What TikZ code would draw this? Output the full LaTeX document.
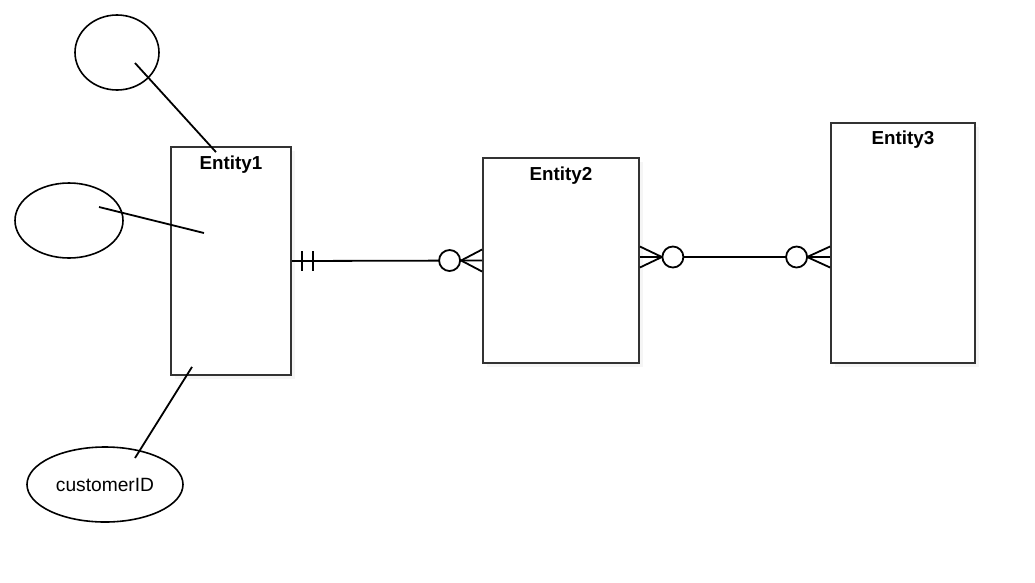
\documentclass[tikz,border=0pt]{standalone}
\usepackage{fontspec}
\setmainfont{Liberation Sans}
\usetikzlibrary{shapes.geometric,shadows,calc}
\definecolor{boxline}{HTML}{333333}
\begin{document}
\begin{tikzpicture}
    [x = 1pt, y = -1pt,
    entity/.style = {draw = boxline, line width = 1.8pt, fill = white,
        inner sep = 0pt,
        drop shadow = {shadow xshift = 4pt, shadow yshift = -4pt, fill = black!8}},
    title/.style = {anchor = base, inner sep = 0pt,
        font = \bfseries\fontsize{18.8}{22}\selectfont},
    attr/.style = {draw, ellipse, line width = 1.6pt, inner sep = 0pt,
        minimum height = 75pt, font = \fontsize{19.2}{22}\selectfont},
    conn/.style = {line width = 1.8pt},
    circ/.style = {draw, circle, fill = white, line width = 1.8pt,
        inner sep = 0pt, minimum size = 21pt}]
    \useasboundingbox (0, 0) rectangle (1035, 582);
    \node[entity, minimum width = 120pt, minimum height = 228pt] (e1) at (231, 261) {};
    \node[entity, minimum width = 156pt, minimum height = 205pt] (e2) at (561, 260.5) {};
    \node[entity, minimum width = 144pt, minimum height = 240pt] (e3) at (903, 243) {};
    \node[title] (t1) at ([yshift = -23pt]e1.north) {Entity1};
    \node[title] (t2) at ([yshift = -23pt]e2.north) {Entity2};
    \node[title] (t3) at ([yshift = -22pt]e3.north) {Entity3};
    \node[attr, minimum width = 84pt] (a1) at (117, 52.5) {};
    \node[attr, minimum width = 108pt] (a2) at (69, 220.5) {};
    \node[attr, minimum width = 156pt] (a3) at (105, 484.5) {customerID};
    \draw[conn] ($(a1.center) + (18, 10.5)$) -- ($(e1.north) + (-15, 6)$);
    \draw[conn] ($(a2.center) + (30, -13.5)$) -- ($(e1.center) + (-27, -28)$);
    \draw[conn] ($(a3.center) + (30, -26.5)$) -- ($(e1.south) + (-39, -9)$);
    % Entity1 -- Entity2
    \draw[conn] (e1.east) -- (e2.west);
    \draw[conn] ($(e1.east) + (10, -10)$) -- ++(0, 20);
    \draw[conn] ($(e1.east) + (21, -10)$) -- ++(0, 20);
    \coordinate (f1) at ($(e2.west) + (-21, 0)$);
    \draw[conn] ($(e2.west) + (0, -11)$) -- (f1) -- ($(e2.west) + (0, 11)$);
    \node[circ] (c1) at ($(e2.west) + (-32.5, 0)$) {};
    % Entity2 -- Entity3
    \coordinate (p2) at ($(e2.east) + (0, -3.5)$);
    \coordinate (p3) at ($(e3.west) + (0, 14)$);
    \draw[conn] (p2) -- (p3);
    \coordinate (f2) at ($(p2) + (22, 0)$);
    \draw[conn] ($(p2) + (0, -10.5)$) -- (f2) -- ($(p2) + (0, 10.5)$);
    \coordinate (f3) at ($(p3) + (-23, 0)$);
    \draw[conn] ($(p3) + (0, -10.5)$) -- (f3) -- ($(p3) + (0, 10.5)$);
    \node[circ] (c2) at ($(p2) + (33, 0)$) {};
    \node[circ] (c3) at ($(p3) + (-33.5, 0)$) {};
\end{tikzpicture}
\end{document}
